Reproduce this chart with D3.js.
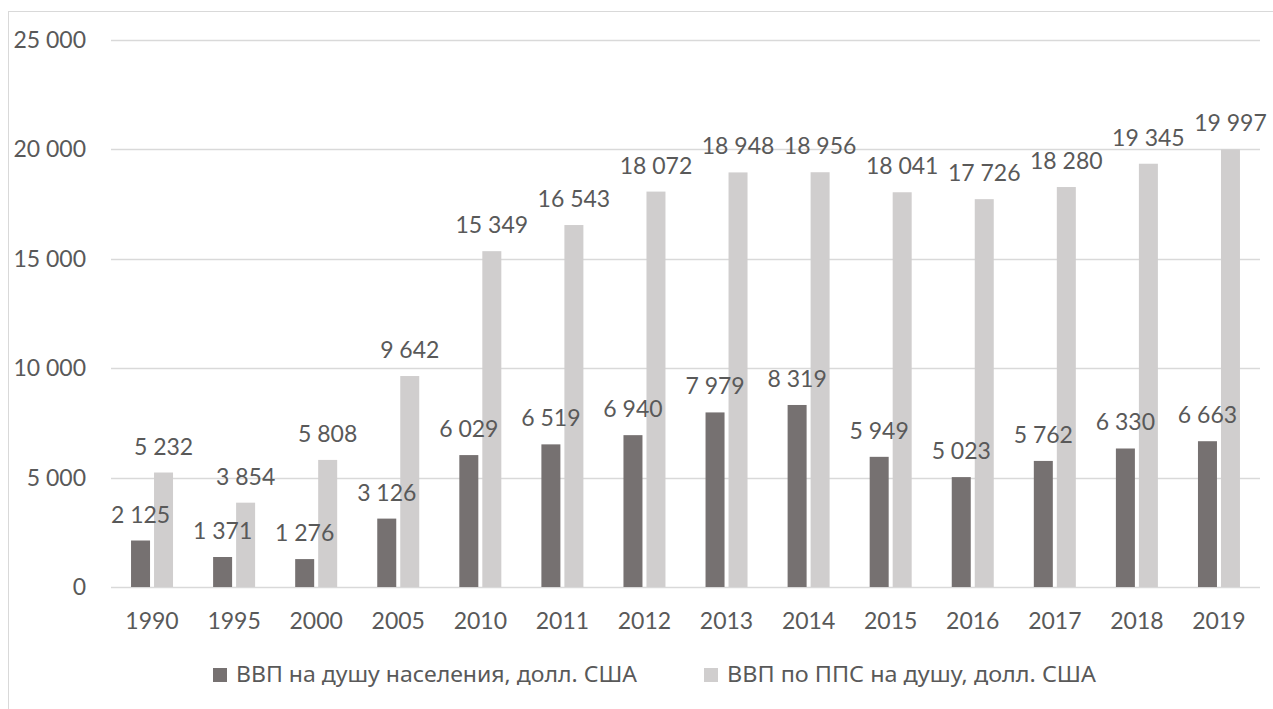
<!DOCTYPE html>
<html>
<head>
<meta charset="utf-8">
<script src="https://cdn.jsdelivr.net/npm/d3@7"></script>
<style>
  body { margin: 0; background: #fff; }
  text { font-family: Lato, "Noto Sans", sans-serif; fill: #595959; }
  .legend text { font-family: "Noto Sans", "Open Sans", sans-serif; }
</style>
</head>
<body>
<svg id="chart" width="1273" height="709"></svg>
<script>
const years = ["1990", "1995", "2000", "2005", "2010", "2011", "2012", "2013", "2014", "2015", "2016", "2017", "2018", "2019"];
const gdpPerCapita = [2125, 1371, 1276, 3126, 6029, 6519, 6940, 7979, 8319, 5949, 5023, 5762, 6330, 6663];
const gdpPppPerCapita = [5232, 3854, 5808, 9642, 15349, 16543, 18072, 18948, 18956, 18041, 17726, 18280, 19345, 19997];
const yTicks = [0, 5000, 10000, 15000, 20000, 25000];
const seriesNames = ["ВВП на душу населения, долл. США", "ВВП по ППС на душу, долл. США"];
const seriesColors = ["#767171", "#d0cece"];

const svg = d3.select("#chart");
const fmt = d3.formatLocale({ decimal: ",", thousands: "\u00a0", grouping: [3], currency: ["", ""] }).format(",d");

// outer frame (only top and left edges fall inside the picture)
svg.append("rect")
  .attr("x", 8.5).attr("y", 11.5)
  .attr("width", 1400).attr("height", 800)
  .attr("fill", "none").attr("stroke", "#d9d9d9");

const x = d3.scaleBand().domain(years).range([111, 1260]);
const y = d3.scaleLinear().domain([0, 25000]).range([587, 40]);

// gridlines
svg.append("g").selectAll("line")
  .data(yTicks)
  .join("line")
  .attr("x1", 111).attr("x2", 1260)
  .attr("y1", d => Math.round(y(d)) + 0.5).attr("y2", d => Math.round(y(d)) + 0.5)
  .attr("stroke", "#d9d9d9").attr("stroke-width", 1.3);

// y axis labels
svg.append("g").selectAll("text")
  .data(yTicks)
  .join("text")
  .attr("x", 86).attr("y", d => y(d))
  .attr("dy", "0.35em")
  .attr("text-anchor", "end")
  .style("font-size", "23px")
  .text(d => fmt(d));

// x axis labels
svg.append("g").selectAll("text")
  .data(years)
  .join("text")
  .attr("x", d => x(d) + x.bandwidth() / 2)
  .attr("y", 629)
  .attr("text-anchor", "middle")
  .style("font-size", "23px")
  .text(d => d);

const barW = 19, innerGap = 4;
const series = [gdpPerCapita, gdpPppPerCapita];
const barLayer = svg.append("g");
const labelLayer = svg.append("g");

series.forEach((vals, si) => {
  const data = years.map((yr, i) => ({ yr, v: vals[i] }));
  const off = si === 0 ? -innerGap / 2 - barW : innerGap / 2;
  barLayer.append("g").selectAll("rect")
    .data(data)
    .join("rect")
    .attr("x", d => x(d.yr) + x.bandwidth() / 2 + off)
    .attr("y", d => y(d.v))
    .attr("width", barW)
    .attr("height", d => y(0) - y(d.v))
    .attr("fill", seriesColors[si]);
  labelLayer.append("g").selectAll("text")
    .data(data)
    .join("text")
    .attr("x", d => x(d.yr) + x.bandwidth() / 2 + off + barW / 2)
    .attr("y", d => y(d.v) - 18)
    .attr("text-anchor", "middle")
    .style("font-size", "23px")
    .text(d => fmt(d.v));
});

// legend
const legendX = [213, 704];
const legendLen = [401, 369];
const legend = svg.append("g").attr("class", "legend");
seriesNames.forEach((name, i) => {
  legend.append("rect")
    .attr("x", legendX[i]).attr("y", 668)
    .attr("width", 14).attr("height", 14)
    .attr("fill", seriesColors[i]);
  legend.append("text")
    .attr("x", legendX[i] + 23).attr("y", 682)
    .attr("textLength", legendLen[i])
    .attr("lengthAdjust", "spacingAndGlyphs")
    .style("font-size", "21px")
    .text(name);
});
</script>
</body>
</html>
